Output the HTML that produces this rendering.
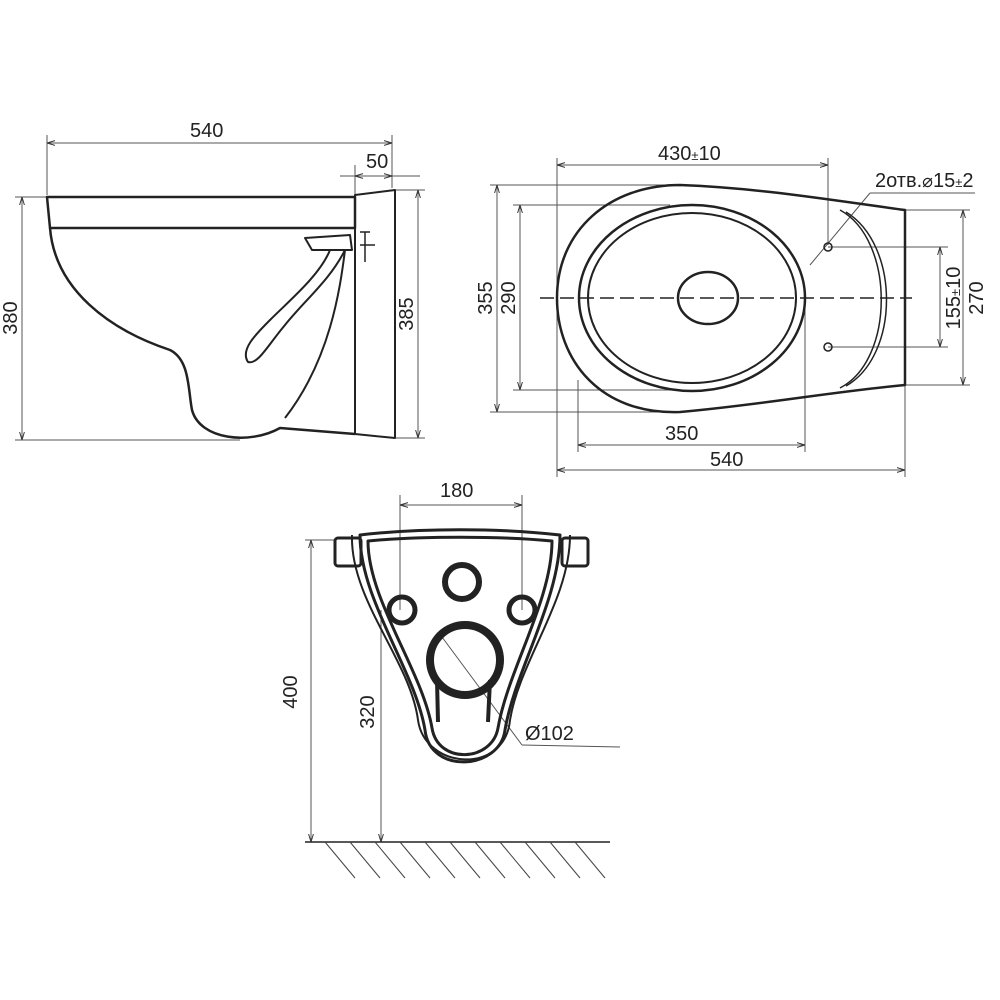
<!DOCTYPE html>
<html><head><style>body{margin:0;background:#fff}svg{display:block}text{font-family:"Liberation Sans",sans-serif;font-size:20px;fill:#222}</style></head><body>
<svg width="1000" height="1000" viewBox="0 0 1000 1000" xmlns="http://www.w3.org/2000/svg">
<defs><marker id="a" viewBox="0 0 10 10" refX="10" refY="5" markerWidth="8" markerHeight="8" orient="auto-start-reverse"><path d="M0,2L10,5L0,8" fill="none" stroke="#333" stroke-width="1.2"/></marker></defs>
<g stroke="#555" stroke-width="1" fill="none">
<!-- side view dims -->
<line x1="47" y1="135" x2="47" y2="195"/><line x1="392" y1="135" x2="392" y2="188"/>
<line x1="47" y1="143" x2="392" y2="143" marker-start="url(#a)" marker-end="url(#a)"/>
<line x1="340" y1="176" x2="355" y2="176"/><line x1="355" y1="165" x2="355" y2="195"/>
<line x1="355" y1="176" x2="392" y2="176" marker-start="url(#a)" marker-end="url(#a)"/>
<line x1="392" y1="176" x2="420" y2="176"/>
<line x1="15" y1="197" x2="47" y2="197"/><line x1="15" y1="440" x2="240" y2="440"/>
<line x1="22" y1="197" x2="22" y2="440" marker-start="url(#a)" marker-end="url(#a)"/>
<line x1="395" y1="190" x2="425" y2="190"/><line x1="395" y1="438" x2="425" y2="438"/>
<line x1="418" y1="190" x2="418" y2="438" marker-start="url(#a)" marker-end="url(#a)"/>
<!-- top view dims -->
<line x1="557" y1="158" x2="557" y2="290"/><line x1="828" y1="158" x2="828" y2="245"/>
<line x1="557" y1="165" x2="828" y2="165" marker-start="url(#a)" marker-end="url(#a)"/>
<line x1="490" y1="185" x2="670" y2="185"/><line x1="490" y1="412" x2="670" y2="412"/>
<line x1="497" y1="185" x2="497" y2="412" marker-start="url(#a)" marker-end="url(#a)"/>
<line x1="513" y1="205" x2="670" y2="205"/><line x1="513" y1="390" x2="670" y2="390"/>
<line x1="520" y1="205" x2="520" y2="390" marker-start="url(#a)" marker-end="url(#a)"/>
<line x1="578" y1="380" x2="578" y2="452"/><line x1="805" y1="300" x2="805" y2="452"/>
<line x1="578" y1="445" x2="805" y2="445" marker-start="url(#a)" marker-end="url(#a)"/>
<line x1="557" y1="300" x2="557" y2="477"/><line x1="905" y1="385" x2="905" y2="477"/>
<line x1="557" y1="470" x2="905" y2="470" marker-start="url(#a)" marker-end="url(#a)"/>
<line x1="828" y1="247" x2="948" y2="247"/><line x1="828" y1="347" x2="948" y2="347"/>
<line x1="940" y1="247" x2="940" y2="347" marker-start="url(#a)" marker-end="url(#a)"/>
<line x1="905" y1="210" x2="970" y2="210"/><line x1="905" y1="385" x2="970" y2="385"/>
<line x1="963" y1="210" x2="963" y2="385" marker-start="url(#a)" marker-end="url(#a)"/>
<line x1="810" y1="265" x2="870" y2="193"/><line x1="870" y1="193" x2="975" y2="193"/>
<!-- front view dims -->
<line x1="400" y1="495" x2="400" y2="610"/><line x1="522" y1="495" x2="522" y2="610"/>
<line x1="400" y1="505" x2="522" y2="505" marker-start="url(#a)" marker-end="url(#a)"/>
<line x1="305" y1="540" x2="335" y2="540"/>
<line x1="311" y1="540" x2="311" y2="842" marker-start="url(#a)" marker-end="url(#a)"/>
<line x1="381" y1="610" x2="381" y2="842" marker-end="url(#a)"/>
<line x1="442" y1="637" x2="522" y2="745"/><line x1="522" y1="745" x2="620" y2="747"/>
</g>
<line x1="540" y1="298" x2="912" y2="298" stroke="#222" stroke-width="1.5" stroke-dasharray="14,6"/>
<g stroke="#222" stroke-width="2.5" fill="none" stroke-linejoin="round">
<!-- side view -->
<path d="M47,197 L355,197 L355,228 L50,228 Z"/>
<path d="M355,195 L395,190 L395,438 L355,434 Z" stroke-width="2"/>
<path d="M50,228 C55,290 110,330 170,350 C190,360 188,390 192,410 C200,440 250,445 280,428 L355,434"/>
<path d="M305,238 L350,235 L352,250 L312,250 Z" stroke-width="2"/>
<path d="M330,250 C320,275 290,300 270,320 C255,335 240,350 248,362 C258,365 268,345 285,325 C305,300 330,280 345,250" stroke-width="2"/>
<path d="M345,250 C340,290 330,360 285,418" stroke-width="2"/>
<path d="M360,232 L370,232 M365,232 L365,262 M360,245 L375,245" stroke-width="1.5"/>
<!-- top view -->
<path d="M905,210 L905,385 C830,392 760,405 680,412 C600,415 557,360 557,298 C557,230 610,185 680,185 C760,188 830,200 905,210 Z"/>
<ellipse cx="692" cy="298" rx="113" ry="93"/>
<ellipse cx="692" cy="298" rx="104" ry="85" stroke-width="2"/>
<ellipse cx="708" cy="298" rx="30" ry="26"/>
<path d="M840,210 C895,240 895,360 840,388" stroke-width="1.5"/>
<path d="M846,212 C900,245 900,355 846,386" stroke-width="1.5"/>
<circle cx="828" cy="247" r="4" stroke-width="1.5"/><circle cx="828" cy="347" r="4" stroke-width="1.5"/>
<!-- front view -->
<path d="M360,535 C420,528 500,528 560,535 C560,600 515,670 505,730 C500,770 430,775 425,730 C415,670 360,600 360,535 Z" stroke-width="3"/>
<path d="M368,541 C420,536 500,536 552,541 C552,600 508,670 498,728 C492,762 438,765 432,728 C422,670 368,600 368,541 Z" stroke-width="3"/>
<path d="M352,535 C350,600 410,660 418,720 C425,770 505,775 510,720 C520,660 570,600 570,535" stroke-width="2"/>
<rect x="335" y="538" width="26" height="28" rx="3" stroke-width="3"/>
<rect x="562" y="538" width="26" height="28" rx="3" stroke-width="3"/>
<circle cx="462" cy="582" r="17" stroke-width="6"/>
<circle cx="402" cy="610" r="13" stroke-width="5"/>
<circle cx="522" cy="610" r="13" stroke-width="5"/>
<circle cx="465" cy="660" r="35" stroke-width="8"/>
<path d="M437,680 L438,722 M490,680 L488,722" stroke-width="4"/>
</g>
<line x1="305" y1="842" x2="610" y2="842" stroke="#222" stroke-width="1.5"/>
<g stroke="#444" stroke-width="1">
<line x1="325" y1="842" x2="355" y2="878"/><line x1="350" y1="842" x2="380" y2="878"/><line x1="375" y1="842" x2="405" y2="878"/><line x1="400" y1="842" x2="430" y2="878"/><line x1="425" y1="842" x2="455" y2="878"/><line x1="450" y1="842" x2="480" y2="878"/><line x1="475" y1="842" x2="505" y2="878"/><line x1="500" y1="842" x2="530" y2="878"/><line x1="525" y1="842" x2="555" y2="878"/><line x1="550" y1="842" x2="580" y2="878"/><line x1="575" y1="842" x2="605" y2="878"/>
</g>
<text x="190" y="137">540</text>
<text x="366" y="168">50</text>
<text transform="translate(17,318) rotate(-90)" text-anchor="middle">380</text>
<text transform="translate(413,314) rotate(-90)" text-anchor="middle">385</text>
<text x="658" y="160">430<tspan font-size="13">±</tspan>10</text>
<text x="875" y="187">2отв.<tspan font-size="18">⌀</tspan>15<tspan font-size="13">±</tspan>2</text>
<text transform="translate(492,298) rotate(-90)" text-anchor="middle">355</text>
<text transform="translate(515,298) rotate(-90)" text-anchor="middle">290</text>
<text transform="translate(960,298) rotate(-90)" text-anchor="middle">155<tspan font-size="13">±</tspan>10</text>
<text transform="translate(983,298) rotate(-90)" text-anchor="middle">270</text>
<text x="665" y="440">350</text>
<text x="710" y="466">540</text>
<text x="440" y="497">180</text>
<text transform="translate(297,692) rotate(-90)" text-anchor="middle">400</text>
<text transform="translate(374,712) rotate(-90)" text-anchor="middle">320</text>
<text x="525" y="740">Ø102</text>
</svg>
</body></html>
